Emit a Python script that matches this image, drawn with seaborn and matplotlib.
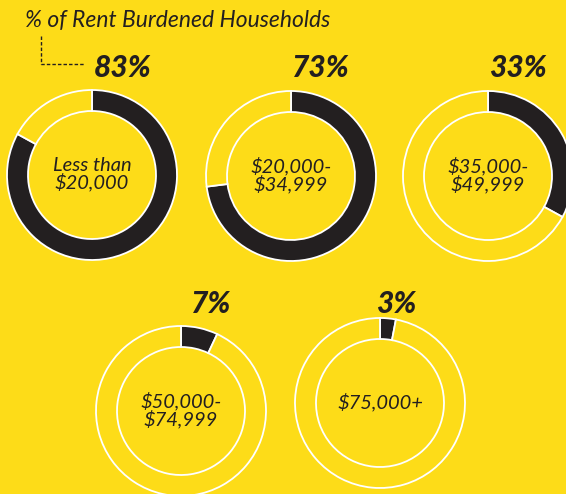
import matplotlib
matplotlib.use("Agg")
import matplotlib.pyplot as plt
import seaborn as sns

# data
income_groups = ["Less than\n$20,000", "$20,000-\n$34,999", "$35,000-\n$49,999",
                 "$50,000-\n$74,999", "$75,000+"]
burdened_pct = [83, 73, 33, 7, 3]
title_text = "% of Rent Burdened Households"

# layout (pixel coordinates, y grows downwards)
centers = [(92, 175), (291, 176), (488, 176), (181, 411), (380, 403)]
label_pos = [(94, 77), (292, 77), (489, 77), (191, 313), (376, 313)]
outer_r = 85
ring_w = 21

yellow = "#FDDC18"
dark = "#231F20"

sns.set_style("white")
plt.rcParams["font.family"] = ["Lato", "DejaVu Sans"]

fig = plt.figure(figsize=(5.66, 4.94), dpi=100, facecolor=yellow)
ax = fig.add_axes([0, 0, 1, 1])
ax.set_facecolor(yellow)

colors = [dark, yellow]
for group, pct, (cx, cy), (lx, ly) in zip(income_groups, burdened_pct, centers, label_pos):
    ax.pie([pct, 100 - pct], colors=colors, center=(cx, cy), radius=outer_r,
           startangle=-90, counterclock=True, frame=True,
           wedgeprops=dict(width=ring_w, edgecolor="white", linewidth=1.3))
    ax.text(cx, cy - 1, group, ha="center", va="center", fontsize=14.5,
            style="italic", color=dark, linespacing=0.95)
    ax.text(lx, ly, f"{pct}%", ha="left", va="baseline", fontsize=21.5,
            style="italic", weight="black", color=dark)

# title with dashed leader
ax.text(25, 27, title_text, ha="left", va="baseline", fontsize=16.5,
        style="italic", weight="normal", color=dark)
ax.plot([41, 41, 84], [36, 64, 64], color=dark, linestyle=(0, (2.5, 1.5)), linewidth=1)

ax.set_autoscale_on(False)
ax.set_xlim(0, 566)
ax.set_ylim(494, 0)
ax.set_aspect("auto")
ax.axis("off")

fig.savefig("out.png", dpi=100, facecolor=yellow)
